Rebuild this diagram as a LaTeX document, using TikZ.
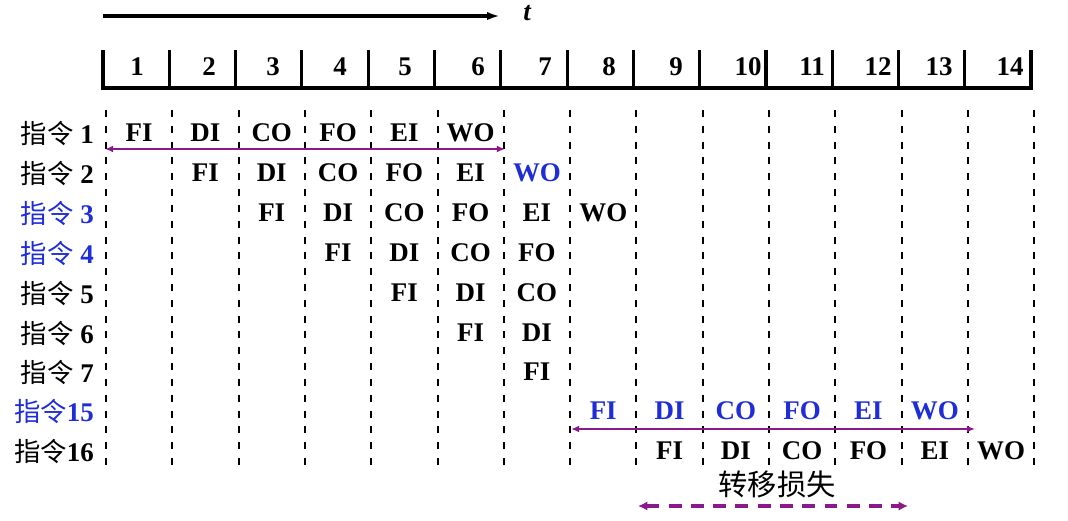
\documentclass[tikz,border=0pt]{standalone}
\usepackage{fontspec}
\setmainfont{Liberation Serif}
\newfontfamily\cjk{Noto Sans CJK SC}
\usetikzlibrary{arrows.meta,calc}
\definecolor{instblue}{RGB}{30,45,215}
\definecolor{lossviolet}{RGB}{140,25,140}
\tikzset{
	stage/.style={font=\fontsize{23}{25}\selectfont\bfseries, inner sep=0pt},
	rowlabel/.style={anchor=east, font=\fontsize{23}{25}\selectfont\bfseries, inner sep=0pt},
	slot/.style={line width=1.7pt, dash pattern=on 6pt off 7.5pt},
	span/.style={lossviolet, line width=2.2pt, {Latex[length=7pt,width=6pt]}-{Latex[length=7pt,width=6pt]}},
}
\newcommand{\zl}[1]{{\cjk\fontsize{22.5}{24}\selectfont\mdseries #1}}

\begin{document}
\begin{tikzpicture}[x=0.03cm,y=-0.03cm]
		\useasboundingbox (0,0) rectangle (1068,520);
%
		% time axis
		\coordinate (t0) at (103,16);
		\coordinate (t1) at (500,16);
		\node[inner sep=0pt, font=\fontsize{23}{25}\selectfont\bfseries\itshape] (tlab) at (527,13) {t};
		\draw[line width=2.6pt, -{Latex[length=11pt,width=7pt]}] (t0) -- (t1);
%
		% clock bar
		\draw[line width=2.6pt] (103,50) -- (103,88) -- (1031,88) -- (1031,50);
		\foreach \i in {1,...,13}
			\draw[line width=2.6pt] ({103+66.3*\i},50) -- ({103+66.3*\i},88);
		\foreach \n/\x in {1/137,2/209,3/273,4/340,5/405,6/478,7/545,8/609,9/676,10/748,11/812,12/878,13/939,14/1010}
			\node[stage] (n\n) at (\x,67) {\n};
%
		% slot boundaries
		\foreach \i in {0,...,14} {
			\coordinate (d\i) at ({106+66.3*\i},110);
			\coordinate (e\i) at ({106+66.3*\i},468);
			\draw[slot] (d\i) -- (e\i);
		}
%
		% row labels
		\node[rowlabel] (l1) at (94,133) {\zl{指令} 1};
		\node[rowlabel] (l2) at (94,173) {\zl{指令} 2};
		\node[rowlabel, instblue] (l3) at (94,213) {\zl{指令} 3};
		\node[rowlabel, instblue] (l4) at (94,253) {\zl{指令} 4};
		\node[rowlabel] (l5) at (94,293) {\zl{指令} 5};
		\node[rowlabel] (l6) at (94,333) {\zl{指令} 6};
		\node[rowlabel] (l7) at (94,372) {\zl{指令} 7};
		\node[rowlabel, instblue] (l15) at (94,411) {\zl{指令}15};
		\node[rowlabel] (l16) at (94,451) {\zl{指令}16};
%
		% pipeline stages
		\foreach \r/\y/\c/\col/\list in {
				1/133/1/black/{FI,DI,CO,FO,EI,WO},
				2/173/2/black/{FI,DI,CO,FO,EI},
				3/213/3/black/{FI,DI,CO,FO,EI,WO},
				4/253/4/black/{FI,DI,CO,FO},
				5/293/5/black/{FI,DI,CO},
				6/333/6/black/{FI,DI},
				7/372/7/black/{FI},
				15/411/8/instblue/{FI,DI,CO,FO,EI,WO},
				16/451/9/black/{FI,DI,CO,FO,EI,WO}}
			\foreach \s [count=\k from \c] in \list
				\node[stage, text=\col] (s\r-\k) at ({72.85+66.3*\k},\y) {\s};
		\node[stage, text=instblue] (s2-7) at ({72.85+66.3*7},173) {WO};
%
		% spans
		\coordinate (a1l) at (105,149);
		\coordinate (a1r) at (505,149);
		\draw[span] (a1l) -- (a1r);
		\coordinate (a15l) at (571,429);
		\coordinate (a15r) at (975,429);
		\draw[span] (a15l) -- (a15r);
%
		% branch penalty
		\node[inner sep=0pt, font=\cjk\fontsize{25}{27}\selectfont] (loss) at (777,484) {转移损失};
		\coordinate (pl) at (638,506);
		\coordinate (pr) at (908,506);
		\draw[lossviolet, line width=3pt, dash pattern=on 11pt off 8pt, {Latex[length=8pt,width=8pt]}-{Latex[length=8pt,width=8pt]}] (pl) -- (pr);
	\end{tikzpicture}
\end{document}
